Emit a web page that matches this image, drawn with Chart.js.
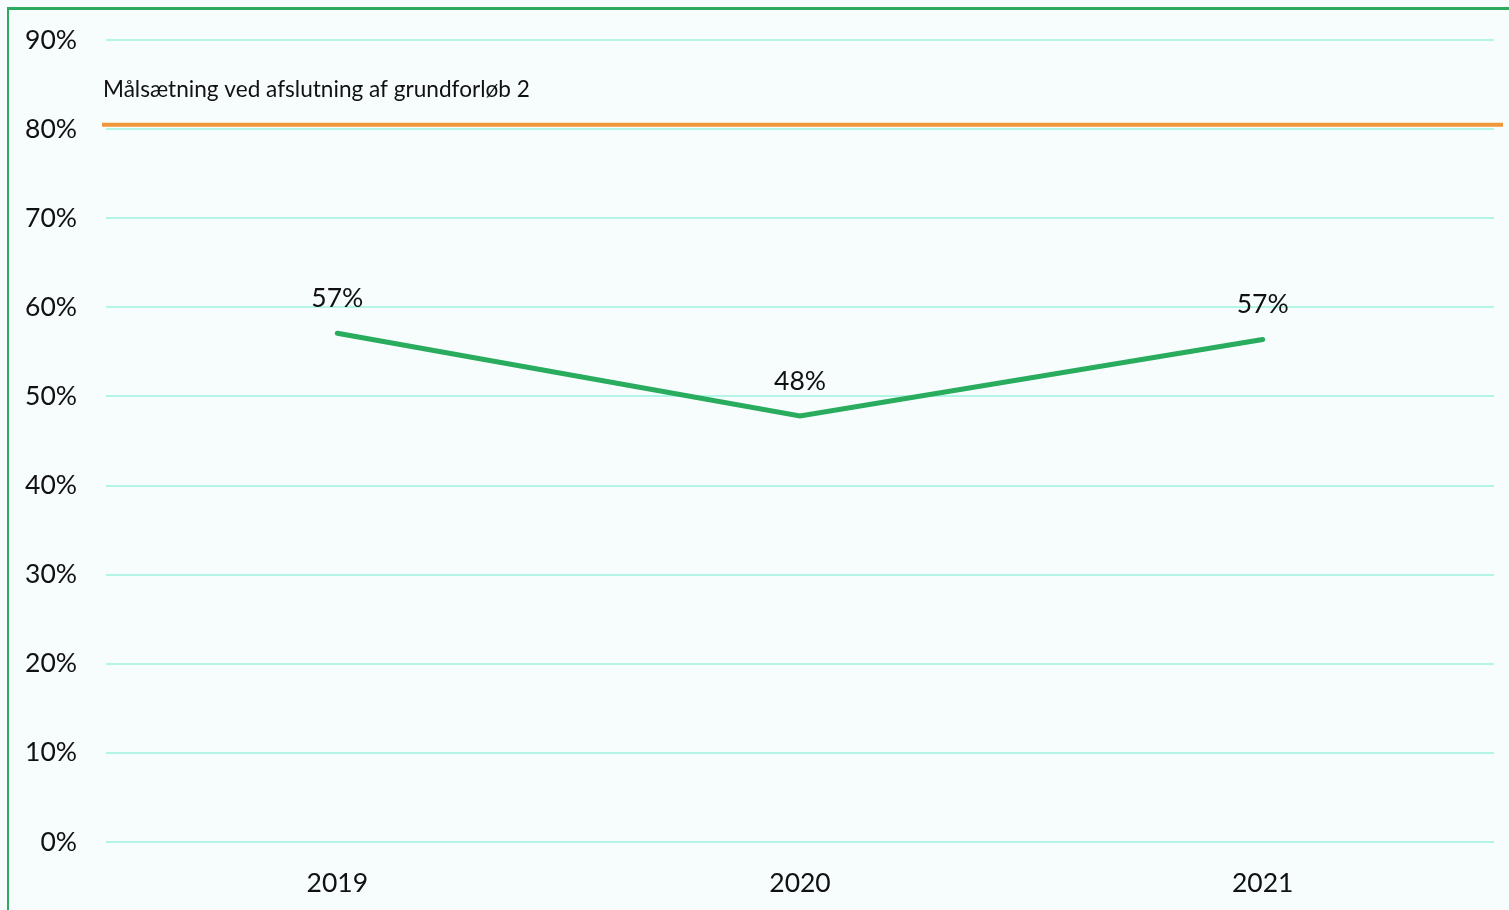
<!DOCTYPE html>
<html>
<head>
<meta charset="utf-8">
<script src="https://cdn.jsdelivr.net/npm/chart.js@4"></script>
<style>
    html, body { margin: 0; padding: 0; background: #f7fcfd; }
    #frame {
        position: absolute; left: 7px; top: 7px; right: 0; bottom: 0;
        border-left: 2px solid #2eaa5c; border-top: 3px solid #2eaa5c;
    }
    #wrap { position: absolute; left: 0; top: 0; width: 1509px; height: 910px; }
</style>
</head>
<body>
<div id="frame"></div>
<div id="wrap"><canvas id="chart" width="1509" height="910"></canvas></div>
<script>
// Data
const years = ['2019', '2020', '2021'];
const shareValues = [57.1, 47.8, 56.4];
const shareLabels = ['57%', '48%', '57%'];
const targetValue = 80.5;
const targetLabel = 'Målsætning ved afslutning af grundforløb 2';

const FONT = 'Lato, "Noto Sans", sans-serif';

// Orange target line with its caption
const targetLine = {
    id: 'targetLine',
    afterDatasetsDraw(chart) {
        const { ctx, chartArea, scales } = chart;
        const y = scales.y.getPixelForValue(targetValue);
        ctx.save();
        ctx.strokeStyle = '#f0973a';
        ctx.lineWidth = 4;
        ctx.beginPath();
        ctx.moveTo(chartArea.left - 4, y);
        ctx.lineTo(chartArea.right + 9, y);
        ctx.stroke();
        ctx.fillStyle = '#111';
        ctx.font = '22.6px ' + FONT;
        ctx.textAlign = 'left';
        ctx.textBaseline = 'alphabetic';
        ctx.fillText(targetLabel, chartArea.left - 3, y - 28);
        ctx.restore();
    }
};

// Value labels above the points
const pointLabels = {
    id: 'pointLabels',
    afterDatasetsDraw(chart) {
        const { ctx } = chart;
        const meta = chart.getDatasetMeta(0);
        ctx.save();
        ctx.fillStyle = '#111';
        ctx.font = '26.5px ' + FONT;
        ctx.textAlign = 'center';
        ctx.textBaseline = 'alphabetic';
        meta.data.forEach((pt, i) => {
            ctx.fillText(shareLabels[i], pt.x, pt.y - 26);
        });
        ctx.restore();
    }
};

new Chart(document.getElementById('chart'), {
    type: 'line',
    data: {
        labels: years,
        datasets: [{
            data: shareValues,
            borderColor: '#29ac5e',
            borderWidth: 5,
            pointRadius: 0,
            tension: 0,
            borderCapStyle: 'round',
            borderJoinStyle: 'miter'
        }]
    },
    options: {
        responsive: false,
        animation: false,
        layout: { padding: { left: 0, right: 15, top: 40, bottom: 0 } },
        plugins: {
            legend: { display: false },
            tooltip: { enabled: false }
        },
        scales: {
            x: {
                offset: true,
                grid: { display: false },
                border: { display: false },
                ticks: { color: '#111', font: { family: FONT, size: 26.5 }, padding: 18 },
                afterFit(scale) { scale.height = 68; }
            },
            y: {
                min: 0,
                max: 90,
                grid: { color: '#b3f5e6', lineWidth: 2, drawTicks: false },
                border: { display: false },
                ticks: {
                    stepSize: 10,
                    color: '#111',
                    font: { family: FONT, size: 26.5 },
                    padding: 29,
                    callback: v => v + '%'
                },
                afterFit(scale) {
                    scale.width = 106;
                    scale.paddingTop = 0;
                    scale.paddingBottom = 0;
                }
            }
        }
    },
    plugins: [targetLine, pointLabels]
});
</script>
</body>
</html>
